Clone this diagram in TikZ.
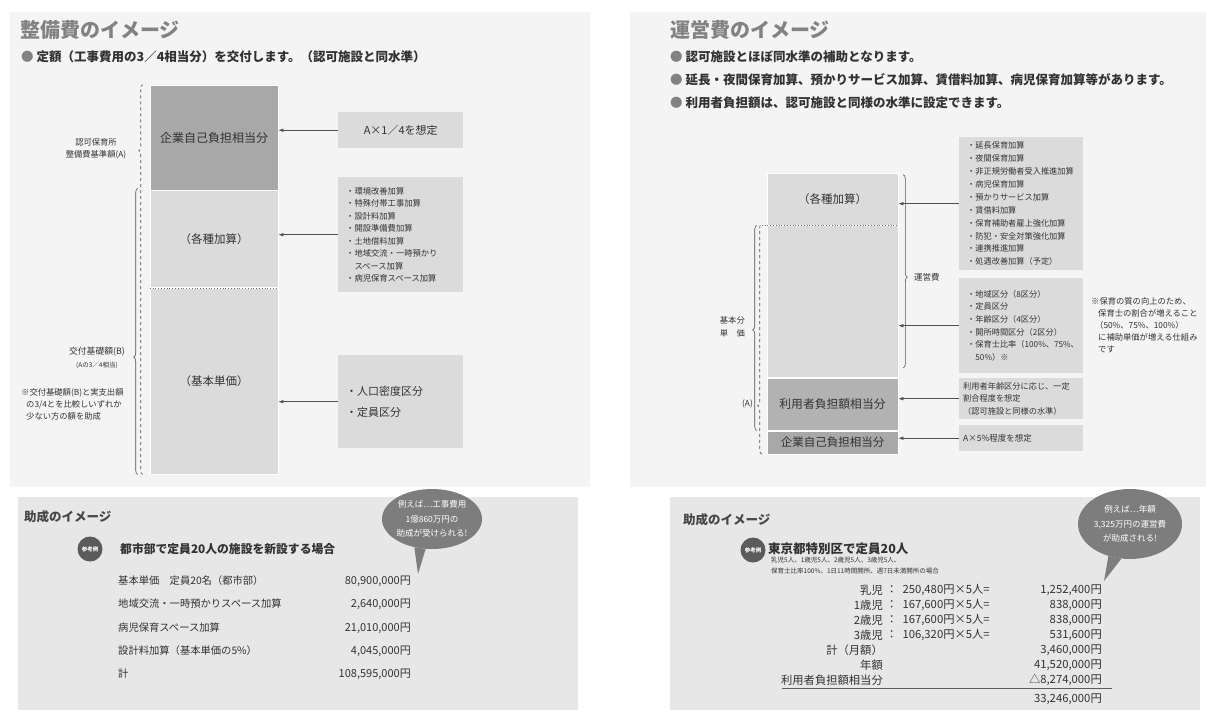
\documentclass[tikz,border=0pt]{standalone}
\usepackage{fontspec}
\setmainfont{Noto Sans CJK JP}
\usetikzlibrary{arrows.meta,positioning,calc,decorations.pathreplacing,shapes.geometric}
\definecolor{pagebg}{RGB}{244,244,244}
\definecolor{panelbg}{RGB}{231,231,231}
\definecolor{blklight}{RGB}{219,219,219}
\definecolor{blkmid}{RGB}{178,178,178}
\definecolor{blkdark}{RGB}{168,168,168}
\definecolor{txtdark}{RGB}{50,50,50}
\definecolor{titlegray}{RGB}{130,130,130}
\definecolor{bubgray}{RGB}{125,125,125}

\newcommand{\fs}[2]{\fontsize{#1}{#2}\selectfont}
\newcommand{\dotmark}{{\color{titlegray}●}\hspace{3pt}}

\tikzset{
  title/.style={anchor=west, inner sep=0pt, text=titlegray, font=\fs{20}{22}\bfseries},
  bullet/.style={anchor=west, inner sep=0pt, text=txtdark, font=\fs{12.5}{14}\bfseries},
  subtitle/.style={anchor=west, inner sep=0pt, text=txtdark!90, font=\fs{12.5}{15}\bfseries},
  colblk/.style={draw=white, line width=0.6pt, minimum width=128, inner sep=0pt, text=txtdark},
  infobox/.style={fill=blklight, inner xsep=8pt, inner ysep=0pt, align=left, anchor=north west, text=txtdark},
  arr/.style={-{Latex[length=5pt,width=3.5pt]}, draw=txtdark!85, line width=0.6pt},
  lbl/.style={text=txtdark, inner sep=0pt},
  bracedeco/.style={decorate, decoration={brace, amplitude=4pt, aspect=#1}, draw=txtdark!85, line width=0.6pt},
  refmark/.style={circle, fill=txtdark!80, minimum size=25, inner sep=0pt, text=white, font=\fs{5.5}{6}\bfseries},
  bubble/.style={ellipse, fill=bubgray, inner sep=0pt, text=white, align=center, font=\fs{8.5}{14.5}},
  rowlbl/.style={inner sep=0pt, text=txtdark, font=\fs{10.3}{12}},
  rowval/.style={inner sep=0pt, text=txtdark, font=\fs{11}{12}},
  sumrow/.style={inner sep=0pt, text=txtdark, font=\fs{11.3}{12}},
}

\begin{document}
\begin{tikzpicture}[x=1pt, y=-1pt]
    \useasboundingbox (0,0) rectangle (1206,718);
    % Backgrounds
    \fill[pagebg] (10,12) rectangle (590,487);
    \fill[pagebg] (630,12) rectangle (1206,487);
    \fill[panelbg] (18,497) rectangle (578,710);
    \fill[panelbg] (670,497) rectangle (1200,710);

    % ---------- left: 整備費 ----------
    \node[title] (titleL) at (20,30) {整備費のイメージ};
    \node[bullet] (bulL) at (21,57) {\dotmark 定額（工事費用の3／4相当分）を交付します。（認可施設と同水準）};

    % column
    \node[colblk, fill=blkdark, minimum height=105, font=\fs{12}{14}] (selfL) at (214,137.5) {企業自己負担相当分};
    \node[colblk, fill=blklight, minimum height=97, below=0pt of selfL, font=\fs{11.5}{14}] (addL) {（各種加算）};
    \node[colblk, fill=blklight, minimum height=186, below=0pt of addL, font=\fs{11.5}{14}] (baseL) {（基本単価）};
    \draw[dotted, txtdark!70, line width=0.8pt] (addL.south west) -- (addL.south east);

    % boxes
    \node[infobox, text width=109, minimum height=36, align=center, font=\fs{11}{13}] (assumeL) at (338,112) {A×1／4を想定};
    \node[infobox, text width=109, minimum height=115, font=\fs{8.3}{12.5}] (listL) at (338,177)
        {・環境改善加算\\・特殊付帯工事加算\\・設計料加算\\・開設準備費加算\\・土地借料加算\\・地域交流・一時預かり\\\hspace*{8.3pt}スペース加算\\・病児保育スペース加算};
    \node[infobox, text width=109, minimum height=93, font=\fs{11}{21}] (popL) at (338,355) {・人口密度区分\\・定員区分};
    \draw[arr] (assumeL.west) -- (assumeL.west -| selfL.east);
    \draw[arr] (listL.west) -- (listL.west -| addL.east);
    \draw[arr] (popL.west) -- (popL.west -| baseL.east);

    % braces
    \draw[bracedeco=0.83, dashed] ($(baseL.south west)+(-7,0)$) -- ($(selfL.north west)+(-7,0)$);
    \draw[bracedeco=0.41] ($(baseL.south west)+(-12,0)$) -- ($(addL.north west)+(-12,-2)$);
    \node[lbl, align=center, font=\fs{8.3}{12.5}] (baseAmtL) at (96,149) {認可保育所\\整備費基準額(A)};
    \node[lbl, align=center, font=\fs{8.8}{13}] (grantL) at (97,358) {交付基礎額(B)\\{\fs{6.5}{8}(Aの3／4相当)}};
    \node[lbl, anchor=west, align=left, font=\fs{8.3}{12}] (noteL) at (21,404)
        {※交付基礎額(B)と実支出額\\\hspace*{5pt}の3/4とを比較しいずれか\\\hspace*{5pt}少ない方の額を助成};

    % subsidy example
    \node[subtitle] (subTitleL) at (24,517) {助成のイメージ};
    \node[refmark] (refL) at (90,549) {参考例};
    \node[lbl, anchor=west, font=\fs{11.8}{15}\bfseries] (caseL) at (120,549) {都市部で定員20人の施設を新設する場合};
    \foreach \lab/\val/\yy [count=\i] in {
        基本単価　定員20名（都市部）/{80,900,000円}/581,
        地域交流・一時預かりスペース加算/{2,640,000円}/604,
        病児保育スペース加算/{21,010,000円}/628,
        設計料加算（基本単価の5\%）/{4,045,000円}/651,
        計/{108,595,000円}/674}
    {
        \node[rowlbl, anchor=west] (lblL\i) at (118,\yy) {\lab};
        \node[rowval, anchor=east] (valL\i) at (411,\yy) {\val};
    }
    \node[bubble, minimum width=98, minimum height=60] (bubL) at (432,519) {例えば…工事費用\\1億860万円の\\助成が受けられる!};
    \coordinate (tipL) at (418,574);
    \fill[bubgray] (bubL.238) -- (tipL) -- (bubL.258) -- cycle;

    % ---------- right: 運営費 ----------
    \node[title] (titleR) at (670,30) {運営費のイメージ};
    \node[bullet] (bulR1) at (670,57) {\dotmark 認可施設とほぼ同水準の補助となります。};
    \node[bullet] (bulR2) at (670,80) {\dotmark 延長・夜間保育加算、預かりサービス加算、賃借料加算、病児保育加算等があります。};
    \node[bullet] (bulR3) at (670,103) {\dotmark 利用者負担額は、認可施設と同様の水準に設定できます。};

    % column
    \node[colblk, minimum width=131, fill=blklight, minimum height=52, font=\fs{11.5}{14}] (addR) at (832.5,199) {（各種加算）};
    \node[colblk, minimum width=131, fill=blklight, minimum height=152, below=0pt of addR] (baseR) {};
    \node[colblk, minimum width=131, fill=blkmid, minimum height=52, below=0pt of baseR, font=\fs{11.8}{14}] (userR) {利用者負担額相当分};
    \node[colblk, minimum width=131, fill=blkdark, minimum height=23, below=0pt of userR, font=\fs{11.5}{14}] (selfR) {企業自己負担相当分};
    \draw[dotted, txtdark!70, line width=0.8pt] (addR.south west) ++(-5,0) -- (addR.south east);

    % boxes
    \node[infobox, text width=108, minimum height=133, font=\fs{8.2}{12.9}] (listR1) at (959,137)
        {・延長保育加算\\・夜間保育加算\\・非正規労働者受入推進加算\\・病児保育加算\\・預かりサービス加算\\・賃借料加算\\・保育補助者雇上強化加算\\・防犯・安全対策強化加算\\・連携推進加算\\・処遇改善加算（予定）};
    \node[infobox, text width=108, minimum height=95, font=\fs{8.2}{12.6}] (listR2) at (959,278)
        {・地域区分（8区分）\\・定員区分\\・年齢区分（4区分）\\・開所時間区分（2区分）\\・保育士比率（100\%、75\%、\\\hspace*{8.2pt}50\%）※};
    \node[infobox, text width=116, inner xsep=4pt, minimum height=41, font=\fs{8.2}{12.5}] (userBoxR) at (959,378)
        {利用者年齢区分に応じ、一定\\割合程度を想定\\（認可施設と同様の水準）};
    \node[infobox, text width=116, inner xsep=4pt, minimum height=26, font=\fs{8.5}{10}] (selfBoxR) at (959,425) {A×5\%程度を想定};
    \draw[arr] (listR1.west) -- (listR1.west -| addR.east);
    \draw[arr] (listR2.west) -- (listR2.west -| baseR.east);
    \draw[arr] (userBoxR.west) -- (userBoxR.west -| userR.east);
    \draw[arr] (selfBoxR.west) -- (selfBoxR.west -| selfR.east);

    % braces
    \draw[bracedeco=0.21, dashed] ($(selfR.south west)+(-5,0)$) -- ($(baseR.north west)+(-5,-2)$);
    \node[lbl, anchor=east, font=\fs{8.3}{10}] (aR) at (753,404) {(A)};
    \draw[bracedeco=0.49] ($(userR.south west)+(-10,0)$) -- ($(baseR.north west)+(-10,0)$);
    \node[lbl, anchor=east, align=left, font=\fs{8.3}{12.5}] (unitR) at (745,327) {基本分\\単　価};
    \draw[bracedeco=0.53] ($(addR.north east)+(5,2)$) -- ($(baseR.south east)+(5,-10)$);
    \node[lbl, anchor=west, font=\fs{8.5}{10}] (opR) at (914,277) {運営費};
    \node[lbl, anchor=west, align=left, font=\fs{8.3}{12}] (noteR) at (1091,325)
        {※保育の質の向上のため、\\\hspace*{7pt}保育士の割合が増えること\\\hspace*{4pt}（50\%、75\%、100\%）\\\hspace*{7pt}に補助単価が増える仕組み\\\hspace*{7pt}です};

    % subsidy example
    \node[subtitle] (subTitleR) at (683,520) {助成のイメージ};
    \node[refmark] (refR) at (753,550) {参考例};
    \node[lbl, anchor=west, font=\fs{12.5}{15}\bfseries] (caseR) at (768,549) {東京都特別区で定員20人};
    \node[lbl, anchor=north west, align=left, font=\fs{6.5}{11}] (condR) at (771,557)
        {乳児5人、1歳児5人、2歳児5人、3歳児5人、\\保育士比率100\%、1日11時間開所、週7日未満開所の場合};
    \foreach \lab/\frm/\val/\yy [count=\i] in {
        乳児/{：\hspace{5pt}250,480円×5人=}/{1,252,400円}/590,
        1歳児/{：\hspace{5pt}167,600円×5人=}/{838,000円}/605,
        2歳児/{：\hspace{5pt}167,600円×5人=}/{838,000円}/620,
        3歳児/{：\hspace{5pt}106,320円×5人=}/{531,600円}/635,
        計（月額）/{}/{3,460,000円}/650,
        年額/{}/{41,520,000円}/665,
        利用者負担額相当分/{}/{△8,274,000円}/680}
    {
        \node[sumrow, anchor=east] (lblR\i) at (883,\yy) {\lab};
        \node[sumrow, anchor=west] (frmR\i) at (886,\yy) {\frm};
        \node[sumrow, anchor=east] (valR\i) at (1102,\yy) {\val};
    }
    \draw[txtdark!80, line width=1pt] (782,688) -- (1112,688);
    \node[sumrow, anchor=east] (totalR) at (1102,699) {33,246,000円};
    \node[bubble, minimum width=104, minimum height=70] (bubR) at (1130,524) {例えば…年額\\3,325万円の運営費\\が助成される!};
    \coordinate (tipR) at (1104,581);
    \fill[bubgray] (bubR.236) -- (tipR) -- (bubR.256) -- cycle;
\end{tikzpicture}
\end{document}
